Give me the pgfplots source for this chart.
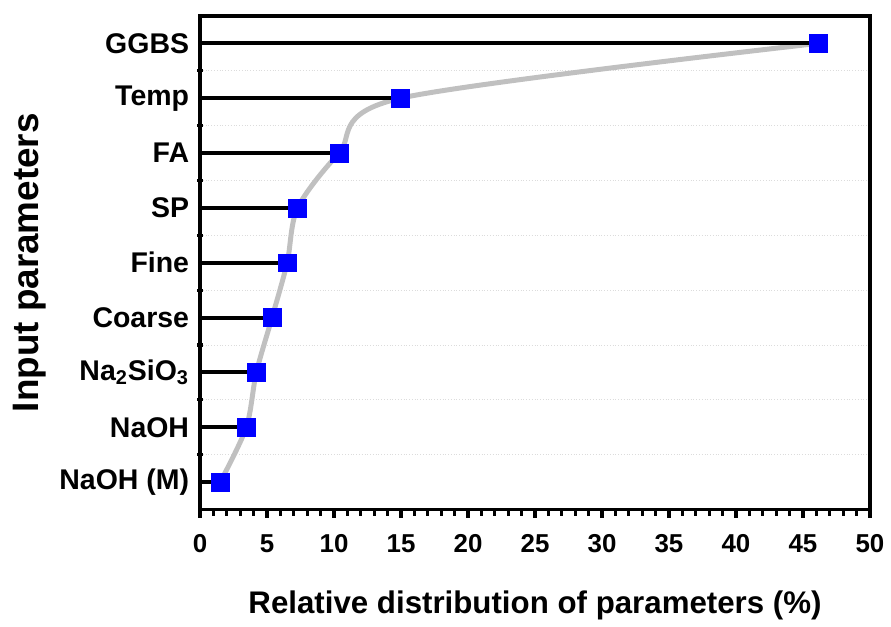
\documentclass[border=0pt]{standalone}
\usepackage{fontspec}
\setmainfont{Liberation Sans}
\usepackage{pgfplots}
\pgfplotsset{compat=1.18}

\definecolor{curvegray}{RGB}{192,192,192}
\definecolor{gridgray}{RGB}{220,220,220}

\begin{document}
\begin{tikzpicture}
\begin{axis}[
  scale only axis,
  width=336.5pt, height=248pt,
  xmin=0, xmax=50,
  ymin=0.5, ymax=9.5,
  xtick={0,5,...,50},
  minor x tick num=4,
  ytick={1,...,9},
  yticklabels={NaOH (M),NaOH,Na\textsubscript{2}SiO\textsubscript{3},Coarse,Fine,SP,FA,Temp,GGBS},
  minor ytick={1.5,2.5,...,8.5},
  xtick pos=bottom, ytick pos=left,
  yminorgrids=true,
  minor grid style={densely dotted, gridgray, line width=0.5pt},
  axis line style={line width=1.6pt},
  every tick/.style={black, line width=1.6pt},
  major tick length=4pt,
  minor tick length=3pt,
  xtick align=outside,
  ytick align=center,
  major y tick style={draw=none},
  /pgf/number format/assume math mode=true,
  xticklabel style={font=\fontsize{13}{15}\selectfont\bfseries, yshift=-5pt},
  yticklabel style={font=\fontsize{14.3}{16}\selectfont\bfseries},
  xlabel={Relative distribution of parameters (\%)},
  ylabel={Input parameters},
  xlabel style={font=\fontsize{15.7}{18}\selectfont\bfseries, yshift=-12pt},
  ylabel style={font=\fontsize{18.5}{21}\selectfont\bfseries},
  clip=false,
]
\addplot[smooth, color=curvegray, line width=2.5pt] coordinates {
  (1.5,1) (3.45,2) (4.2,3) (5.37,4) (6.5,5) (7.28,6) (10.38,7) (14.96,8) (46.16,9)
};
\addplot[xcomb, black, line width=2pt, line cap=butt] coordinates {
  (1.5,1) (3.45,2) (4.2,3) (5.37,4) (6.5,5) (7.28,6) (10.38,7) (14.96,8) (46.16,9)
};
\addplot[only marks, mark=square*, mark size=4.5pt, mark options={fill=blue, draw=blue, line width=0.3pt}] coordinates {
  (1.5,1) (3.45,2) (4.2,3) (5.37,4) (6.5,5) (7.28,6) (10.38,7) (14.96,8) (46.16,9)
};
\end{axis}
\path ([xshift=-100.5pt,yshift=-48pt]current axis.south west) rectangle ([xshift=8.5pt,yshift=8pt]current axis.north east);
\end{tikzpicture}
\end{document}
